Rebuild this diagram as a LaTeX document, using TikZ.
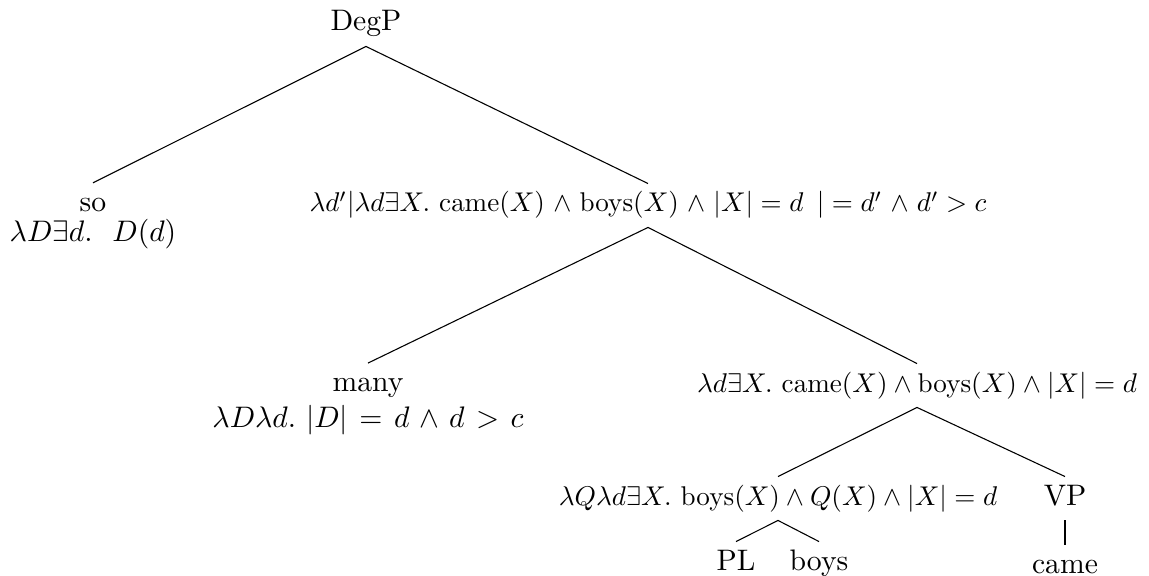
\documentclass[tikz,border=0pt]{standalone}
\begin{document}
\begin{tikzpicture}[x=0.369pt,y=-0.369pt,
  every node/.style={font=\fontsize{10.95}{13.6}\selectfont},
  tn/.style={inner sep=0pt, text height=10.3pt, text depth=5.5pt, anchor=base},
  sem/.style={tn, font=\fontsize{10}{12}\selectfont},
  stk/.style={inner sep=0pt, anchor=base},
  branch/.style={line width=0.4pt}]
\useasboundingbox (0,0) rectangle (1149,576);
\node[tn] (degp) at (366,31) {DegP};
\node[stk] (so) at (93,242) {\shortstack{\rule{0pt}{10.3pt}so\\$\lambda D\exists d.\ \ D(d)$}};
\node[sem] (big) at (648,212) {\medmuskip=5.5mu$\lambda d'|\lambda d\exists X.\ \mathrm{came}(X)\wedge\mathrm{boys}(X)\wedge|X|=d\ \,|=d'\wedge d'>c$};
\node[stk] (many) at (368,428) {\shortstack{\rule{0pt}{10.3pt}many\\\thickmuskip=7mu plus 2mu\medmuskip=6mu$\lambda D\lambda d.\ |D|=d\wedge d>c$}};
\node[sem] (mid) at (917,392) {$\lambda d\exists X.\ \mathrm{came}(X)\wedge\mathrm{boys}(X)\wedge|X|=d$};
\node[sem] (q) at (778,505) {$\lambda Q\lambda d\exists X.\ \mathrm{boys}(X)\wedge Q(X)\wedge|X|=d$};
\node[tn] (vp) at (1065,505) {VP};
\node[tn] (pl) at (736,570) {PL};
\node[tn] (boys) at (819,570) {boys};
\node[tn] (came) at (1065,573) {came};
\draw[branch] (degp.south) -- (so.north);
\draw[branch] (degp.south) -- (big.north);
\draw[branch] (big.south) -- (many.north);
\draw[branch] (big.south) -- (mid.north);
\draw[branch] (mid.south) -- (q.north);
\draw[branch] (mid.south) -- (vp.north);
\draw[branch] (q.south) -- (pl.north);
\draw[branch] (q.south) -- (boys.north);
\draw[branch] (vp.south) -- (came.north);
\end{tikzpicture}
\end{document}
